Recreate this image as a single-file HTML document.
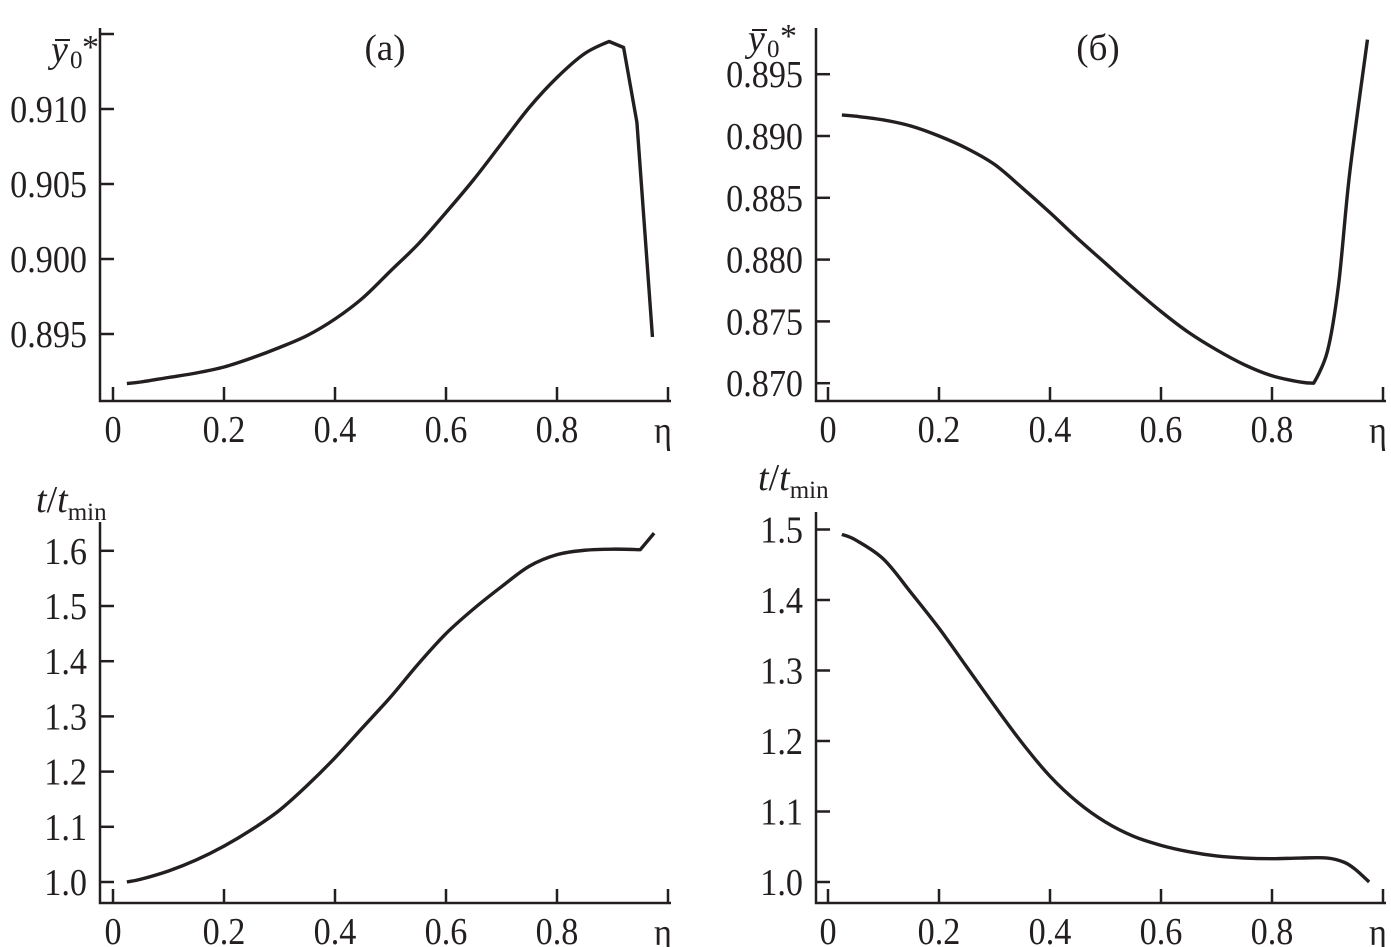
<!DOCTYPE html>
<html><head><meta charset="utf-8"><style>
html,body{margin:0;padding:0;background:#fff;}
svg{display:block;font-family:"Liberation Serif",serif;}
</style></head><body>
<svg id="fig" width="1391" height="947" viewBox="0 0 1391 947" xmlns="http://www.w3.org/2000/svg"></svg>
<script>
const xTicks=[0,0.2,0.4,0.6,0.8];
// panel a top
const aTopX=[0.025,0.05,0.1,0.15,0.2,0.25,0.3,0.35,0.4,0.45,0.5,0.55,0.6,0.65,0.7,0.75,0.8,0.85,0.894,0.92,0.944,0.972];
const aTopY=[0.8917,0.8918,0.8921,0.8924,0.8928,0.8934,0.8941,0.8949,0.8960,0.8974,0.8992,0.9010,0.9031,0.9053,0.9077,0.9101,0.9121,0.9137,0.9145,0.9141,0.9091,0.8948];
const aTopTicks=[0.895,0.900,0.905,0.910,0.915];
const aTopLabels=["0.895","0.900","0.905","0.910",""];
// panel b top
const bTopX=[0.025,0.05,0.1,0.15,0.2,0.25,0.3,0.35,0.4,0.45,0.5,0.55,0.6,0.65,0.7,0.75,0.8,0.85,0.875,0.9,0.92,0.94,0.972];
const bTopY=[0.8917,0.8916,0.8913,0.8908,0.8900,0.8890,0.8877,0.8858,0.8838,0.8817,0.8797,0.8777,0.8758,0.8741,0.8727,0.8715,0.8706,0.8701,0.8700,0.8726,0.8780,0.8870,0.8978];
const bTopTicks=[0.870,0.875,0.880,0.885,0.890,0.895];
const bTopLabels=["0.870","0.875","0.880","0.885","0.890","0.895"];
// panel a bottom
const aBotX=[0.025,0.05,0.1,0.15,0.2,0.25,0.3,0.35,0.4,0.45,0.5,0.55,0.6,0.65,0.7,0.75,0.8,0.85,0.9,0.95,0.975];
const aBotY=[1.0,1.005,1.02,1.04,1.065,1.095,1.13,1.175,1.225,1.28,1.335,1.395,1.45,1.495,1.535,1.572,1.593,1.601,1.603,1.602,1.632];
const aBotTicks=[1.0,1.1,1.2,1.3,1.4,1.5,1.6];
const aBotLabels=["1.0","1.1","1.2","1.3","1.4","1.5","1.6"];
// panel b bottom
const bBotX=[0.025,0.05,0.1,0.15,0.2,0.25,0.3,0.35,0.4,0.45,0.5,0.55,0.6,0.65,0.7,0.75,0.8,0.85,0.9,0.93,0.95,0.975];
const bBotY=[1.493,1.485,1.458,1.41,1.36,1.305,1.25,1.197,1.15,1.113,1.085,1.065,1.052,1.043,1.037,1.034,1.033,1.034,1.034,1.028,1.018,1.0];
const bBotTicks=[1.0,1.1,1.2,1.3,1.4,1.5];
const bBotLabels=["1.0","1.1","1.2","1.3","1.4","1.5"];

const NS="http://www.w3.org/2000/svg";
const svg=document.getElementById('fig');
function mk(tag,attrs,parent){const e=document.createElementNS(NS,tag);for(const k in attrs)e.setAttribute(k,attrs[k]);(parent||svg).appendChild(e);return e;}
function txt(parent,x,y,anchor,s){
  const t=mk('text',{x:0,y:0,transform:`translate(${x},${y}) scale(0.9,1)`,'font-size':38,'text-anchor':anchor,fill:'#231f20'},parent);
  t.textContent=s;return t;
}

function panel(cfg){
  const g=mk('g',{});
  
  
  const sx=v=>cfg.x0+v*cfg.xs;
  const sy=v=>cfg.yRef+(cfg.vRef-v)*cfg.ys;
  const ax=mk('path',{d:`M${cfg.axX},${cfg.top} V${cfg.axY} H${sx(1.0)+3}`,stroke:'#231f20','stroke-width':2.5,fill:'none'},g);
  
  
  [...xTicks,1.0].forEach((t,i)=>{
    const tk=mk('line',{x1:sx(t),x2:sx(t),y1:cfg.axY,y2:cfg.axY-14,stroke:'#231f20','stroke-width':2.5},g);
    
    
    if(i<xTicks.length){
      const tx=txt(g,sx(t),cfg.axY+41,'middle',t===0?'0':String(t));
      
      
    }
  });
  const eta=txt(g,sx(1.0)-5,cfg.axY+42,'middle','η');
  
  
  cfg.ticks.forEach((t,i)=>{
    const y=sy(t);
    const tk=mk('line',{x1:cfg.axX,x2:cfg.axX+14,y1:y,y2:y,stroke:'#231f20','stroke-width':2.5},g);
    
    
    if(cfg.labels[i]){
      const tx=txt(g,cfg.axX-13,y+13,'end',cfg.labels[i]);
      
      
    }
  });
  const P=cfg.xs_.map((v,i)=>[sx(v),sy(cfg.ys_[i])]);
  let d=`M${P[0][0]},${P[0][1]}`;
  for(let i=0;i<P.length-1;i++){
    const p0=P[Math.max(0,i-1)],p1=P[i],p2=P[i+1],p3=P[Math.min(P.length-1,i+2)];
    const t=cfg.sharp&&cfg.sharp.includes(i)?0:1/6;
    const t2=cfg.sharp&&cfg.sharp.includes(i+1)?0:1/6;
    d+=` C${p1[0]+(p2[0]-p0[0])*t},${p1[1]+(p2[1]-p0[1])*t} ${p2[0]-(p3[0]-p1[0])*t2},${p2[1]-(p3[1]-p1[1])*t2} ${p2[0]},${p2[1]}`;
  }
  const c=mk('path',{d:d,stroke:'#231f20','stroke-width':3.4,fill:'none','stroke-linejoin':'round'},g);
  
  
  return g;
}

panel({name:'panel-a-top',x0:113,xs:555,axX:100,axY:401,top:28,yRef:109,vRef:0.910,ys:15000,ticks:aTopTicks,labels:aTopLabels,xs_:aTopX,ys_:aTopY,sharp:[18,19,20]});
panel({name:'panel-b-top',x0:828,xs:555,axX:816,axY:401,top:28,yRef:136,vRef:0.890,ys:12360,ticks:bTopTicks,labels:bTopLabels,xs_:bTopX,ys_:bTopY,sharp:[18]});
panel({name:'panel-a-bottom',x0:113,xs:555,axX:100,axY:903,top:522,yRef:882,vRef:1.0,ys:552,ticks:aBotTicks,labels:aBotLabels,xs_:aBotX,ys_:aBotY,sharp:[19]});
panel({name:'panel-b-bottom',x0:828,xs:555,axX:816,axY:903,top:512,yRef:882,vRef:1.0,ys:705,ticks:bBotTicks,labels:bBotLabels,xs_:bBotX,ys_:bBotY});
</script>
<svg style="position:absolute;left:0;top:0" width="1391" height="947" xmlns="http://www.w3.org/2000/svg" font-family="Liberation Serif, serif" fill="#231f20">
  <text x="385" y="60" font-size="37" text-anchor="middle">(a)</text>
  <text x="1098" y="60" font-size="37" text-anchor="middle">(б)</text>
  <g>
    <line x1="55" y1="40" x2="70" y2="40" stroke="#231f20" stroke-width="2"/>
    <text x="51" y="62" font-size="38" font-style="italic">y</text>
    <text x="70" y="68" font-size="25">0</text>
    <text x="82" y="58" font-size="34">*</text>
  </g>
  <g>
    <line x1="752" y1="30" x2="767" y2="30" stroke="#231f20" stroke-width="2"/>
    <text x="748" y="51" font-size="38" font-style="italic">y</text>
    <text x="767" y="57" font-size="25">0</text>
    <text x="780" y="47" font-size="34">*</text>
  </g>
  <text x="36" y="512" font-size="38"><tspan font-style="italic">t</tspan>/<tspan font-style="italic">t</tspan><tspan font-size="25" dy="8">min</tspan></text>
  <text x="758" y="490" font-size="38"><tspan font-style="italic">t</tspan>/<tspan font-style="italic">t</tspan><tspan font-size="25" dy="8">min</tspan></text>
</svg>
</body></html>
